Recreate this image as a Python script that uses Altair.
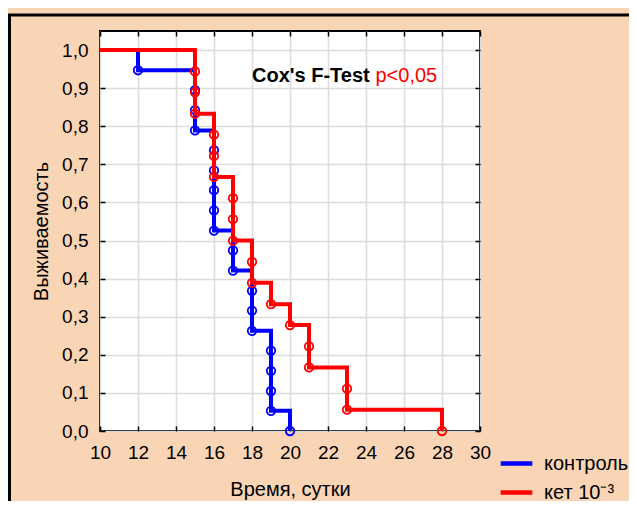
import altair as alt
import pandas as pd

# ---- data ----
groups = ["контроль", "кет 10⁻³"]
colors = ["#0000FF", "#FF0000"]

# step curves (time, survival)
ctrl_t = [10, 12, 15, 16, 17, 18, 19, 20]
ctrl_s = [1.0, 0.947, 0.789, 0.526, 0.421, 0.263, 0.053, 0.0]
ket_t = [10, 15, 16, 17, 18, 19, 20, 21, 23, 28]
ket_s = [1.0, 0.833, 0.667, 0.5, 0.389, 0.333, 0.278, 0.167, 0.056, 0.0]

# event markers
ctrl_pt_t = [12, 15, 15, 15, 16, 16, 16, 16, 16, 17, 17, 18, 18, 18, 19, 19, 19, 19, 20]
ctrl_pt_s = [0.947, 0.895, 0.842, 0.789, 0.737, 0.684, 0.632, 0.579, 0.526,
             0.474, 0.421, 0.368, 0.316, 0.263, 0.211, 0.158, 0.105, 0.053, 0.0]
ket_pt_t = [15, 15, 15, 16, 16, 16, 17, 17, 17, 18, 18, 19, 20, 21, 21, 23, 23, 28]
ket_pt_s = [0.944, 0.889, 0.833, 0.778, 0.722, 0.667, 0.611, 0.556, 0.5,
            0.444, 0.389, 0.333, 0.278, 0.222, 0.167, 0.111, 0.056, 0.0]

x_ticks = [10, 12, 14, 16, 18, 20, 22, 24, 26, 28, 30]
y_ticks = [0.0, 0.1, 0.2, 0.3, 0.4, 0.5, 0.6, 0.7, 0.8, 0.9, 1.0]

ann_text = ["Cox's F-Test", "p<0,05"]
ann_x = [18.0, 24.5]
ann_y = [0.932, 0.932]

x_title = "Время, сутки"
y_title = "Выживаемость"

FONT = "Liberation Sans"
W, H = 380, 400
TICK_FS = 19
TITLE_FS = 20

ctrl_line = pd.DataFrame({"t": ctrl_t, "s": ctrl_s, "g": groups[0]})
ket_line = pd.DataFrame({"t": ket_t, "s": ket_s, "g": groups[1]})
ctrl_pts = pd.DataFrame({"t": ctrl_pt_t, "s": ctrl_pt_s})
ket_pts = pd.DataFrame({"t": ket_pt_t, "s": ket_pt_s})
bold_ann = pd.DataFrame({"t": ann_x[:1], "s": ann_y[:1], "txt": ann_text[:1]})
red_ann = pd.DataFrame({"t": ann_x[1:], "s": ann_y[1:], "txt": ann_text[1:]})

xscale = alt.Scale(domain=[10, 30], nice=False)
yscale = alt.Scale(domain=[0, 1.05], nice=False, zero=False)
cscale = alt.Scale(domain=groups, range=colors)

label_expr = "replace(format(datum.value, '.1f'), '.', ',')"

x_axis = alt.Axis(values=x_ticks, title=x_title, grid=True, gridColor="#DCDCDC", gridWidth=1.5,
                  domain=False, ticks=True, tickSize=5, tickWidth=1.5, tickColor="black",
                  offset=-5, labelPadding=12, labelFontSize=TICK_FS, labelFont=FONT, labelColor="black",
                  titleFontSize=TITLE_FS, titleFont=FONT, titleFontWeight="normal", titleColor="black",
                  titlePadding=17, labelFlush=False)
y_axis = alt.Axis(values=y_ticks, title=y_title, grid=True, gridColor="#DCDCDC", gridWidth=1.5,
                  domain=False, ticks=True, tickSize=5, tickWidth=1.5, tickColor="black",
                  offset=-5, labelPadding=12, labelFontSize=TICK_FS, labelFont=FONT, labelColor="black",
                  labelExpr=label_expr, titleFontSize=TITLE_FS, titleFont=FONT, titleFontWeight="normal",
                  titleColor="black", titlePadding=10, labelFlush=False)
x_axis_top = alt.Axis(values=x_ticks, orient="top", title=None, labels=False, grid=False, domain=False,
                      tickSize=5, tickWidth=1.5, tickColor="black", offset=-5)
y_axis_right = alt.Axis(values=y_ticks, orient="right", title=None, labels=False, grid=False,
                        domain=False, tickSize=5, tickWidth=1.5, tickColor="black", offset=-5)

legend = alt.Legend(title=None, orient="none", legendX=398, legendY=414, symbolType="stroke",
                    symbolSize=1000, symbolStrokeWidth=4.5, labelFontSize=TITLE_FS, labelFont=FONT,
                    labelColor="black", rowPadding=-2, labelOffset=9)

border = alt.Chart(alt.Data(values=[{}])).mark_rect(
    fill=None, stroke="black", strokeWidth=3
).encode(x=alt.value(-90.5), x2=alt.value(W + 300), y=alt.value(-16), y2=alt.value(H + 300))

base_line = dict(interpolate="step-after", strokeWidth=4)
pt_style = dict(shape="circle", filled=False, size=72, strokeWidth=1.8, opacity=1)

blue_line = alt.Chart(ctrl_line).mark_line(**base_line).encode(
    x=alt.X("t:Q", scale=xscale, axis=x_axis),
    y=alt.Y("s:Q", scale=yscale, axis=y_axis),
    color=alt.Color("g:N", scale=cscale, legend=legend),
)
blue_pts = alt.Chart(ctrl_pts).mark_point(color=colors[0], **pt_style).encode(
    x=alt.X("t:Q", scale=xscale, axis=None),
    y=alt.Y("s:Q", scale=yscale, axis=None),
)
red_line = alt.Chart(ket_line).mark_line(**base_line).encode(
    x=alt.X("t:Q", scale=xscale, axis=None),
    y=alt.Y("s:Q", scale=yscale, axis=None),
    color=alt.Color("g:N", scale=cscale, legend=legend),
)
red_pts = alt.Chart(ket_pts).mark_point(color=colors[1], **pt_style).encode(
    x=alt.X("t:Q", scale=xscale, axis=None),
    y=alt.Y("s:Q", scale=yscale, axis=None),
)
txt_bold = alt.Chart(bold_ann).mark_text(align="left", baseline="middle", fontSize=TITLE_FS,
                                         fontWeight="bold", font=FONT, color="black").encode(
    x=alt.X("t:Q", scale=xscale, axis=None),
    y=alt.Y("s:Q", scale=yscale, axis=None),
    text="txt:N",
)
txt_red = alt.Chart(red_ann).mark_text(align="left", baseline="middle", fontSize=TITLE_FS,
                                       font=FONT, color="#FF0000").encode(
    x=alt.X("t:Q", scale=xscale, axis=None),
    y=alt.Y("s:Q", scale=yscale, axis=None),
    text="txt:N",
)
mirror = alt.Chart(ctrl_pts).mark_point(opacity=0).encode(
    x=alt.X("t:Q", scale=xscale, axis=x_axis_top),
    y=alt.Y("s:Q", scale=yscale, axis=y_axis_right),
)

chart = alt.layer(
    border, blue_line, blue_pts, red_line, red_pts, txt_bold, txt_red, mirror
).resolve_axis(x="independent", y="independent").properties(
    width=W, height=H,
    autosize=alt.AutoSizeParams(type="none"),
    padding={"left": 92, "top": 23, "right": 149, "bottom": 70},
    background="#FAD5B5",
).configure_view(
    fill="white", stroke="black", strokeWidth=2
)

chart.save("out.html", embed_options={"renderer": "svg", "actions": False})
